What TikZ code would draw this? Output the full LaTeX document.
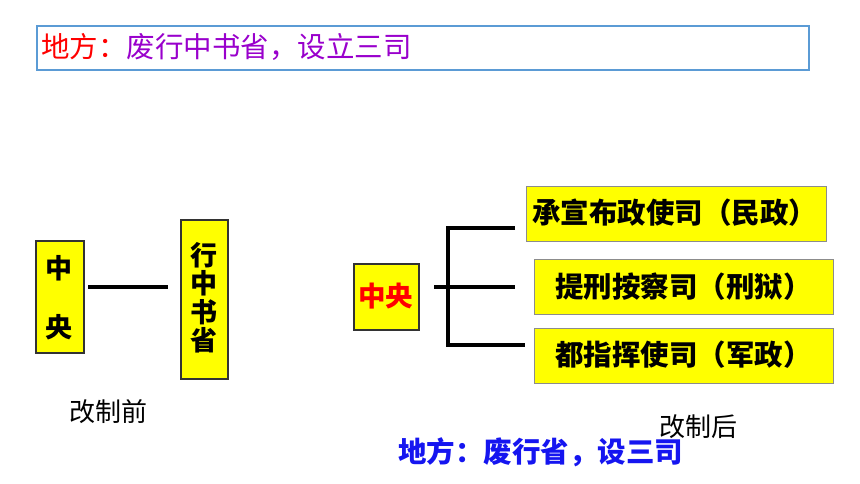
\documentclass[tikz,border=0pt]{standalone}
\usepackage{fontspec}
\newfontfamily\cjk{Noto Sans CJK SC}
\definecolor{myred}{HTML}{FF0000}
\definecolor{mypurple}{HTML}{9900CC}
\definecolor{myblue}{HTML}{1515F0}
\definecolor{myframe}{HTML}{5B9BD5}
\definecolor{myyellow}{HTML}{FFFF00}
\tikzset{
  ybox/.style={draw=black!80, fill=myyellow, line width=1.6pt, inner sep=0pt},
  ybbox/.style={draw=black!45, fill=myyellow, line width=1.2pt, inner sep=0pt},
  conn/.style={line width=4pt},
  boldtxt/.style={font=\cjk\fontsize{28.5}{30}\selectfont\bfseries, inner sep=0pt},
  leftbold/.style={font=\cjk\fontsize{27}{28.5}\selectfont\bfseries, inner sep=0pt},
  captxt/.style={font=\cjk\fontsize{26}{28}\selectfont, inner sep=0pt},
  toptxtstyle/.style={font=\cjk\fontsize{28.5}{30}\selectfont, inner sep=0pt},
}
\begin{document}
\begin{tikzpicture}[x=1pt,y=-1pt]
\useasboundingbox (0,0) rectangle (860,484);
% top box
\node[draw=myframe, line width=1.8pt, minimum width=772pt, minimum height=44pt, anchor=north west, inner sep=0pt] (top) at (36,25) {};
\node[toptxtstyle, anchor=west] (toptxt) at (41,47) {\textcolor{myred}{地方：}\textcolor{mypurple}{废行中书省，设立三司}};
% left: before
\node[ybox, minimum width=48pt, minimum height=112pt, anchor=north west] (zy1) at (35,240) {};
\node[leftbold] (z1) at (59,268) {中};
\node[leftbold] (y1) at (59,327) {央};
\node[ybox, minimum width=47pt, minimum height=159pt, anchor=north west] (xzs) at (180,219) {};
\node[leftbold, align=center] (xzstxt) at (203.5,298) {行\\中\\书\\省};
\coordinate (la) at (88,287);
\coordinate (lb) at (168,287);
\draw[conn] (la) -- (lb);
\node[captxt] (before) at (108,412) {改制前};
% right: after
\node[ybox, minimum width=65pt, minimum height=66pt, anchor=north west] (zy2) at (353,263) {};
\node[boldtxt, font=\cjk\fontsize{27.5}{29}\selectfont\bfseries, text=myred] (zy2t) at (385.5,296) {中央};
\node[ybbox, minimum width=300pt, minimum height=55pt, anchor=north west] (b1) at (526,186) {};
\node[boldtxt, anchor=west] (b1t) at (532,213) {承宣布政使司（民政）};
\node[ybbox, minimum width=299pt, minimum height=55pt, anchor=north west] (b2) at (534,259) {};
\node[boldtxt, anchor=west] (b2t) at (555,287) {提刑按察司（刑狱）};
\node[ybbox, minimum width=299pt, minimum height=55pt, anchor=north west] (b3) at (534,328) {};
\node[boldtxt, anchor=west] (b3t) at (555,355) {都指挥使司（军政）};
\coordinate (s0) at (434,287);
\coordinate (s1) at (515,287);
\coordinate (v1) at (448,228);
\coordinate (v3) at (448,345);
\coordinate (e1) at (515,228);
\coordinate (e3) at (525,345);
\draw[conn] (s0) -- (s1);
\draw[conn, line join=miter] (e1) -- (v1) -- (v3) -- (e3);
\node[captxt] (after) at (698,427) {改制后};
\node[boldtxt, text=myblue, anchor=west] (bottom) at (398,452) {地方：废行省，设三司};
\end{tikzpicture}
\end{document}
